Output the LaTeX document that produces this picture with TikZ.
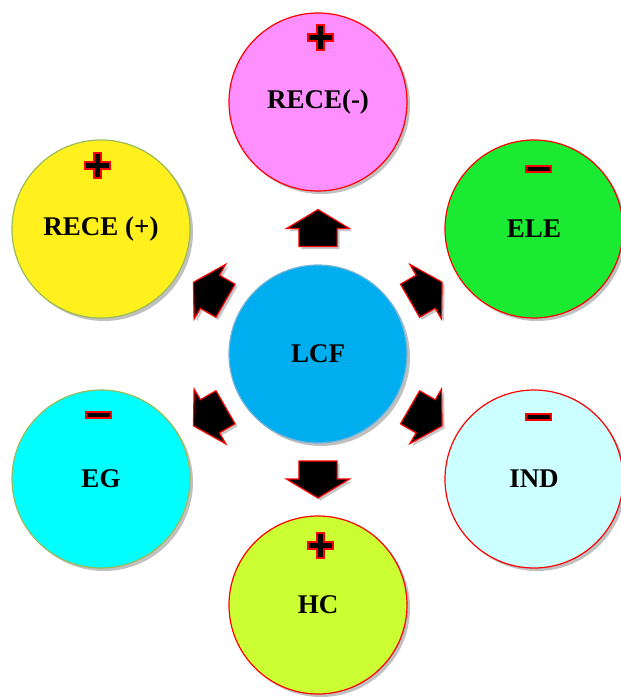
\documentclass[tikz,border=0pt]{standalone}
\usepackage{fontspec}
\setmainfont{Liberation Serif}
\usetikzlibrary{shapes.arrows, shadows}
\definecolor{rosa}{RGB}{255,143,255}
\definecolor{gruen}{RGB}{26,235,50}
\definecolor{gelb}{RGB}{255,240,30}
\definecolor{blau}{RGB}{0,174,239}
\definecolor{tuerkis}{RGB}{0,255,255}
\definecolor{hellblau}{RGB}{204,255,255}
\definecolor{limette}{RGB}{204,255,51}
\definecolor{oliv}{RGB}{155,187,89}
\definecolor{blaurand}{RGB}{120,180,215}
\colorlet{schatten}{black!55}

\tikzset{
  kreis/.style={circle, minimum size=178pt, inner sep=0pt, line width=1.2pt,
    font=\fontsize{27}{32}\selectfont\bfseries,
    drop shadow={shadow xshift=3pt, shadow yshift=-3pt, opacity=0.45, fill=schatten}},
  blockpfeil/.style={shape=single arrow, fill=black, draw=red, line width=1.2pt,
    single arrow head extend=12.5pt, single arrow tip angle=118,
    minimum height=37pt, inner xsep=0pt, inner ysep=18.5pt, minimum width=1pt,
    pos=0.42, sloped, allow upside down,
    drop shadow={shadow xshift=2.5pt, shadow yshift=-2.5pt, opacity=0.4, fill=schatten}},
  plusmark/.pic={
    \draw[fill=black, draw=red, line width=2pt, line join=miter]
      (-12.5,-3.5) -- (-3.5,-3.5) -- (-3.5,-12.5) -- (3.5,-12.5) -- (3.5,-3.5) -- (12.5,-3.5)
      -- (12.5,3.5) -- (3.5,3.5) -- (3.5,12.5) -- (-3.5,12.5) -- (-3.5,3.5) -- (-12.5,3.5) -- cycle;
  },
  minusmark/.pic={
    \draw[fill=black, draw=red, line width=2pt] (-12.5,-3) rectangle (12.5,3);
  }
}

\begin{document}
\begin{tikzpicture}[x=1pt, y=-1pt]

    \useasboundingbox (0,0) rectangle (621,697);

    % Kreise
    \node[kreis, fill=blau, draw=blaurand] (lcf) at (318,354) {LCF};
    \node[kreis, fill=rosa, draw=red] (receminus) at (318,102) {RECE(-)};
    \node[kreis, fill=gruen, draw=red] (ele) at (534,229) {ELE};
    \node[kreis, fill=hellblau, draw=red] (ind) at (534,479) {IND};
    \node[kreis, fill=limette, draw=red] (hc) at (318,605) {HC};
    \node[kreis, fill=tuerkis, draw=oliv] (eg) at (101,479) {EG};
    \node[kreis, fill=gelb, draw=oliv] (receplus) at (101,229) {RECE (+)};

    % Vorzeichen
    \pic at (320,37) {plusmark};
    \pic at (97,165) {plusmark};
    \pic at (320,545) {plusmark};
    \pic at (538,169) {minusmark};
    \pic at (538,417) {minusmark};
    \pic at (98,415) {minusmark};

    % Pfeile
    \path (lcf) -- node[blockpfeil] (pfeilreceminus) {} (receminus);
    \path (lcf) -- node[blockpfeil] (pfeilele) {} (ele);
    \path (lcf) -- node[blockpfeil] (pfeilind) {} (ind);
    \path (lcf) -- node[blockpfeil] (pfeilhc) {} (hc);
    \path (lcf) -- node[blockpfeil] (pfeileg) {} (eg);
    \path (lcf) -- node[blockpfeil] (pfeilreceplus) {} (receplus);

\end{tikzpicture}
\end{document}
